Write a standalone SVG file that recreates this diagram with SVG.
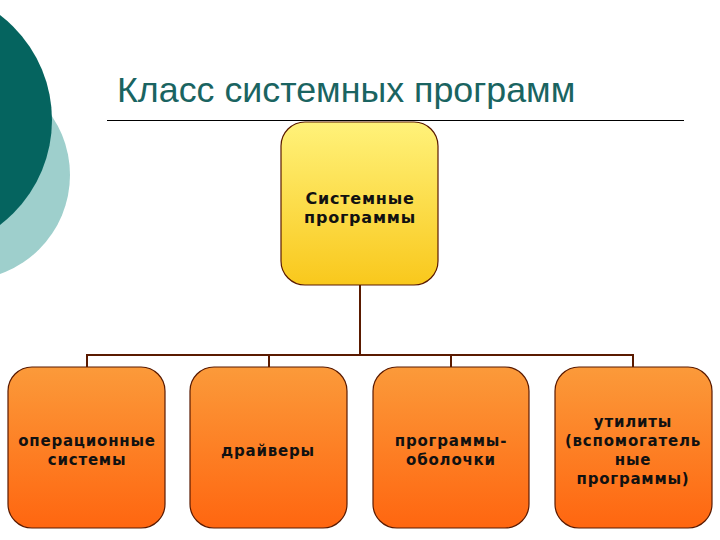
<svg xmlns="http://www.w3.org/2000/svg" width="720" height="540" viewBox="0 0 720 540">
<defs>
<linearGradient id="gy" x1="0" y1="0" x2="0" y2="1">
<stop offset="0" stop-color="#fff27a"/>
<stop offset="1" stop-color="#f9c81c"/>
</linearGradient>
<linearGradient id="go" x1="0" y1="0" x2="0" y2="1">
<stop offset="0" stop-color="#fb9a3a"/>
<stop offset="1" stop-color="#ff6610"/>
</linearGradient>
<style>
.box{stroke:#5a1a00;stroke-width:1.2}
.t{font-family:"DejaVu Sans",Verdana,sans-serif;font-weight:bold;font-size:15px;fill:#111;text-anchor:middle;letter-spacing:0.8px}
.tt{font-size:16px}
.c{fill:none;stroke:#5a1a00;stroke-width:2}
</style>
</defs>
<rect width="720" height="540" fill="#fff"/>
<circle cx="-35" cy="175" r="105" fill="#9ecfcc"/>
<circle cx="-80" cy="120" r="132" fill="#05645f"/>
<text x="117" y="102" font-family="Liberation Sans, Arial, sans-serif" font-size="35.8" fill="#1a6461">Класс системных программ</text>
<line x1="107" y1="120.5" x2="684" y2="120.5" stroke="#000" stroke-width="1"/>
<g id="connectors">
<path class="c" d="M360 285V355M87 367V355H633V367M269 355V367M451 355V367"/>
</g>
<g id="root">
<rect class="box" x="281" y="122" width="157" height="163" rx="24" fill="url(#gy)"/>
<text class="t tt" x="360" y="204">Системные</text>
<text class="t tt" x="360" y="223">программы</text>
</g>
<g id="os">
<rect class="box" x="8" y="367" width="157" height="161" rx="24" fill="url(#go)"/>
<text class="t" x="87" y="446">операционные</text>
<text class="t" x="87" y="465">системы</text>
</g>
<g id="drivers">
<rect class="box" x="190" y="367" width="157" height="161" rx="24" fill="url(#go)"/>
<text class="t" x="268" y="456">драйверы</text>
</g>
<g id="shells">
<rect class="box" x="373" y="367" width="156" height="161" rx="24" fill="url(#go)"/>
<text class="t" x="451" y="446">программы-</text>
<text class="t" x="451" y="465">оболочки</text>
</g>
<g id="utils">
<rect class="box" x="555" y="367" width="157" height="161" rx="24" fill="url(#go)"/>
<text class="t" x="633" y="427">утилиты</text>
<text class="t" x="633" y="446">(вспомогатель</text>
<text class="t" x="633" y="465">ные</text>
<text class="t" x="633" y="484">программы)</text>
</g>
</svg>
